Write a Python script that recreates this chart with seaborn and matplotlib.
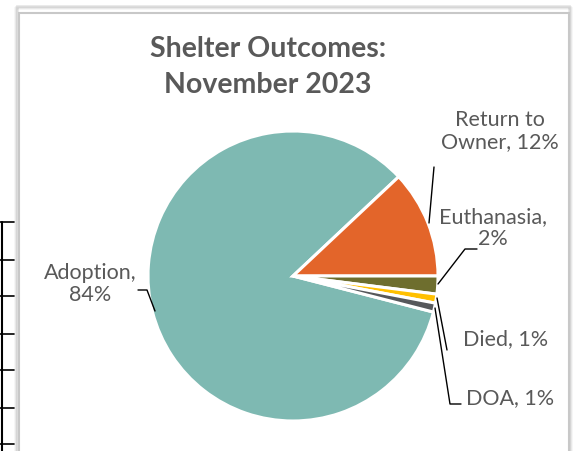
import matplotlib.pyplot as plt
import seaborn as sns
from matplotlib.patches import Rectangle

sns.set_theme(style="white")
plt.rcParams["font.family"] = ["Lato", "DejaVu Sans"]

outcomes = ["Adoption", "Return to Owner", "Euthanasia", "Died", "DOA"]
shares = [84, 12, 2, 1, 1]
colors = ["#7EB9B2", "#E3652A", "#6E6E2E", "#FFC000", "#56585B"]
label_text = ["Adoption,\n84%", "Return to\nOwner, 12%", "Euthanasia,\n2%", "Died, 1%", "DOA, 1%"]

W, H = 578, 451
fig = plt.figure(figsize=(W / 100, H / 100), dpi=100)
ax = fig.add_axes([0, 0, 1, 1])

# spreadsheet cells peeking out on the left
for yy in [222, 260, 296, 334, 370, 408, 444]:
    ax.plot([0, 14], [H - yy, H - yy], color="black", lw=1.2)
ax.plot([2, 2], [0, H - 222], color="black", lw=1.5)

# chart frame with a soft shadow
for i, a in enumerate([0.08, 0.12, 0.18]):
    ax.add_patch(Rectangle((18 - 3 + i, -5), 556 - 2 * i, H - 3 + i, fill=False,
                           ec="gray", lw=2, alpha=a))
ax.add_patch(Rectangle((19, -5), 550, H - 8, fc="white", ec="#C8C8C8", lw=1.5))

ax.pie(shares, colors=colors, startangle=-14.4, counterclock=False,
       center=(293, H - 276), radius=145,
       wedgeprops=dict(edgecolor="white", linewidth=2.2))

ax.text(268, H - 49, "Shelter Outcomes:", ha="center", va="center",
        fontsize=20.5, fontweight="bold", color="#595959")
ax.text(268, H - 85, "November 2023", ha="center", va="center",
        fontsize=20.5, fontweight="bold", color="#595959")

# label positions (pixels, y from top) and leader lines
label_pos = [(90, 284), (500, 131), (493, 228), (506, 339), (510, 398)]
leaders = [
    [(138, 290), (147, 290), (155, 311)],
    [(434, 167), (429, 223)],
    [(438, 284), (465, 249), (477, 249)],
    [(437, 298), (447, 350)],
    [(435, 308), (450, 404), (461, 404)],
]
for txt, (lx, ly), pts in zip(label_text, label_pos, leaders):
    ax.text(lx, H - ly, txt, ha="center", va="center", fontsize=15.5,
            color="#595959", linespacing=1.1)
    ax.plot([p[0] for p in pts], [H - p[1] for p in pts], color="black", lw=1)

ax.set_xlim(0, W)
ax.set_ylim(0, H)
ax.set_aspect("equal")
ax.axis("off")

fig.savefig("out.png", dpi=100)
